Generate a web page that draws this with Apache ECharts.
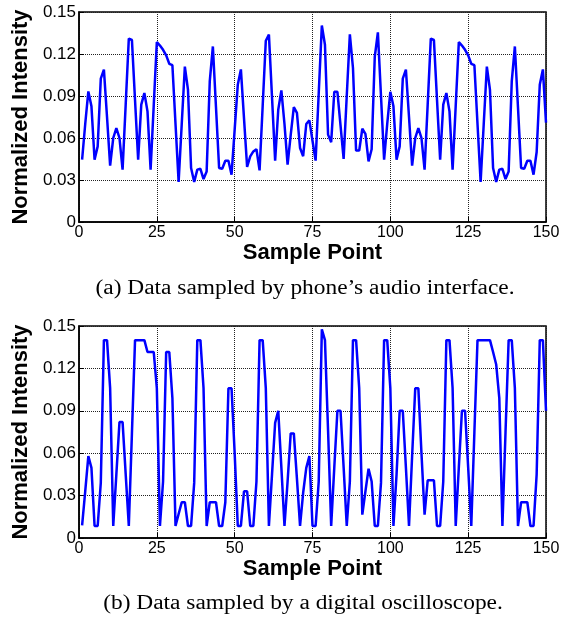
<!DOCTYPE html>
<html>
<head>
<meta charset="utf-8">
<script src="https://cdn.jsdelivr.net/npm/echarts@6/dist/echarts.min.js"></script>
<style>
html,body{margin:0;padding:0;background:#fff;}
#chart{width:582px;height:621px;}
</style>
</head>
<body>
<div id="chart"></div>
<script>
// Sample index starts at 1
const startSample = 1;
const xTicks = [0, 25, 50, 75, 100, 125, 150];
const yTicks = [0, 0.03, 0.06, 0.09, 0.12, 0.15];

const phoneAudio = [
0.0445,0.070,0.0933,0.0826,0.0445,0.054,0.1024,0.1088,0.075,0.0402,
0.060,0.0671,0.060,0.0374,0.084,0.131,0.130,0.087,0.0445,0.0838,
0.0921,0.079,0.0374,0.083,0.1286,0.126,0.123,0.119,0.113,0.112,
0.070,0.0286,0.070,0.111,0.0945,0.0386,0.0286,0.0374,0.038,0.0307,
0.036,0.1004,0.1254,0.082,0.0386,0.038,0.0438,0.0438,0.0338,0.066,
0.098,0.109,0.074,0.0393,0.0469,0.0504,0.052,0.0369,0.083,0.1295,
0.1338,0.089,0.0438,0.0802,0.094,0.070,0.041,0.062,0.0821,0.078,
0.0529,0.047,0.070,0.0726,0.058,0.0438,0.092,0.1404,0.1266,0.0624,
0.057,0.093,0.093,0.069,0.045,0.090,0.134,0.110,0.051,0.051,
0.0666,0.063,0.0433,0.052,0.118,0.1355,0.090,0.0445,0.070,0.093,
0.0826,0.0445,0.054,0.1024,0.1088,0.075,0.0402,0.060,0.0671,0.060,
0.0374,0.084,0.131,0.130,0.087,0.0445,0.0838,0.0921,0.079,0.0374,
0.083,0.1286,0.126,0.123,0.119,0.113,0.112,0.070,0.0286,0.070,
0.111,0.0945,0.0386,0.0286,0.0374,0.038,0.0307,0.036,0.1004,0.1254,
0.082,0.0386,0.038,0.0438,0.0438,0.0338,0.050,0.098,0.109,0.071
];

const oscilloscope = [
0.009,0.033,0.058,0.0496,0.0085,0.0085,0.039,0.14,0.14,0.106,
0.0085,0.045,0.082,0.082,0.045,0.0085,0.074,0.14,0.14,0.14,
0.14,0.1316,0.1316,0.1316,0.106,0.0085,0.04,0.1316,0.1316,0.099,
0.0085,0.017,0.0253,0.0253,0.0085,0.0085,0.039,0.14,0.14,0.106,
0.0085,0.0253,0.0253,0.0253,0.0085,0.0085,0.0253,0.106,0.106,0.06,
0.0085,0.0085,0.033,0.033,0.0085,0.0085,0.04,0.14,0.14,0.106,
0.0085,0.045,0.0815,0.09,0.05,0.0085,0.04,0.074,0.074,0.042,
0.0085,0.032,0.0496,0.0579,0.0085,0.0085,0.04,0.1476,0.14,0.076,
0.0085,0.05,0.09,0.09,0.05,0.0085,0.04,0.14,0.14,0.106,
0.0165,0.033,0.049,0.04,0.0085,0.0085,0.039,0.14,0.14,0.106,
0.0085,0.045,0.09,0.09,0.05,0.0085,0.058,0.106,0.106,0.06,
0.0165,0.0408,0.0408,0.0408,0.0085,0.0085,0.04,0.14,0.14,0.106,
0.0085,0.05,0.09,0.09,0.05,0.0085,0.075,0.14,0.14,0.14,
0.14,0.14,0.1316,0.1228,0.099,0.0085,0.075,0.14,0.14,0.106,
0.0085,0.0253,0.0253,0.0253,0.0085,0.0085,0.045,0.14,0.14,0.09
];

const captionA = "(a) Data sampled by phone\u2019s audio interface.";
const captionB = "(b) Data sampled by a digital oscilloscope.";
const xName = "Sample Point";
const yName = "Normalized Intensity";

const toPairs = arr => arr.map((v, i) => [i + startSample, v]);

const chart = echarts.init(document.getElementById('chart'), null, {renderer: 'canvas'});
const font = 'Liberation Sans, Arial, sans-serif';

function xAxisCfg(gi) {
  return {
    gridIndex: gi, type: 'value', min: xTicks[0], max: xTicks[xTicks.length - 1], interval: 25,
    name: xName, nameLocation: 'middle', nameGap: 20,
    nameTextStyle: {fontFamily: font, fontWeight: 'bold', fontSize: 22, color: '#000'},
    axisLine: {show: true, onZero: false, lineStyle: {color: '#000', width: 1.5}},
    axisTick: {show: true, inside: true, length: 5, lineStyle: {color: '#000'}},
    axisLabel: {fontFamily: font, fontSize: 16, color: '#000', margin: 3},
    splitLine: {show: true, lineStyle: {color: '#222', type: [1, 1], width: 1}}
  };
}
function yAxisCfg(gi) {
  return {
    gridIndex: gi, type: 'value', min: yTicks[0], max: yTicks[yTicks.length - 1], interval: 0.03,
    name: yName, nameLocation: 'middle', nameGap: 46,
    nameTextStyle: {fontFamily: font, fontWeight: 'bold', fontSize: 22, color: '#000'},
    axisLine: {show: true, lineStyle: {color: '#000', width: 1.5}},
    axisTick: {show: true, inside: true, length: 5, lineStyle: {color: '#000'}},
    axisLabel: {fontFamily: font, fontSize: 17, color: '#000', margin: 3,
      formatter: v => v === 0 ? '0' : v.toFixed(2)},
    splitLine: {show: true, lineStyle: {color: '#222', type: [1, 1], width: 1}}
  };
}
function seriesCfg(idx, data) {
  return {
    type: 'line', xAxisIndex: idx, yAxisIndex: idx, data: toPairs(data),
    showSymbol: false, symbol: 'none', animation: false,
    lineStyle: {color: '#0000ff', width: 2.5}
  };
}

const capFont = '20px "Liberation Serif", "Times New Roman", serif';

chart.setOption({
  animation: false,
  grid: [
    {left: 79, top: 12, width: 467, height: 210, show: true, borderColor: '#000', borderWidth: 1.5, backgroundColor: '#fff'},
    {left: 79, top: 326, width: 467, height: 212, show: true, borderColor: '#000', borderWidth: 1.5, backgroundColor: '#fff'}
  ],
  xAxis: [xAxisCfg(0), xAxisCfg(1)],
  yAxis: [yAxisCfg(0), yAxisCfg(1)],
  series: [seriesCfg(0, phoneAudio), seriesCfg(1, oscilloscope)],
  graphic: [
    {type: 'text', x: 305, y: 279, scaleX: 1.17, originX: 0, originY: 0,
     style: {text: captionA, font: capFont, fill: '#000', textAlign: 'center', textVerticalAlign: 'top'}},
    {type: 'text', x: 303, y: 594, scaleX: 1.17, originX: 0, originY: 0,
     style: {text: captionB, font: capFont, fill: '#000', textAlign: 'center', textVerticalAlign: 'top'}}
  ]
});
</script>
</body>
</html>
